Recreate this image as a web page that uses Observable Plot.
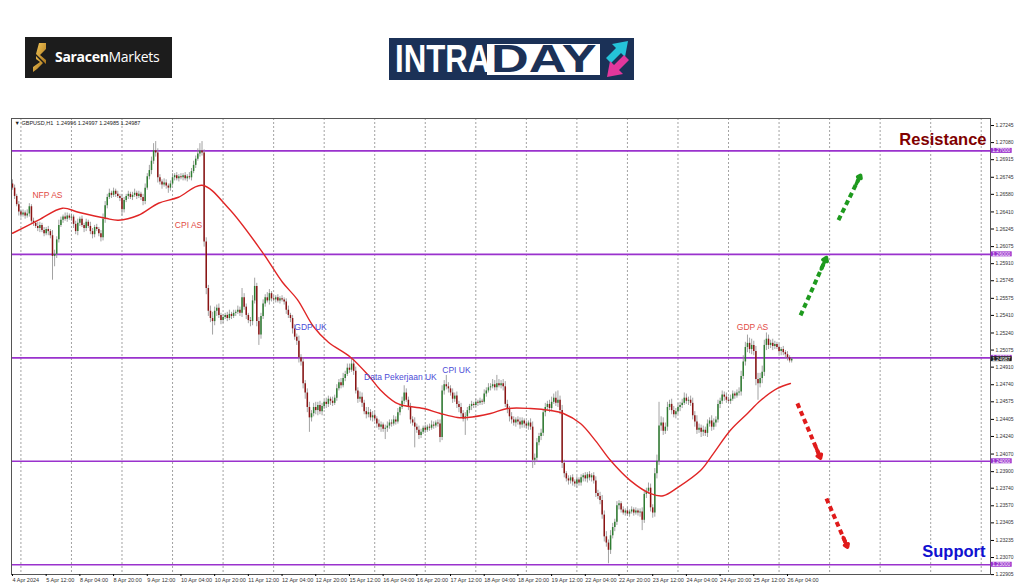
<!DOCTYPE html>
<html><head><meta charset="utf-8">
<script src="https://cdn.jsdelivr.net/npm/d3@7"></script>
<script src="https://cdn.jsdelivr.net/npm/@observablehq/plot@0.6"></script>
<style>
body{margin:0;background:#fff;}
#wrap{position:relative;width:1024px;height:587px;overflow:hidden;background:#fff;font-family:"Liberation Sans",Arial,sans-serif;}
#chart{position:absolute;left:0;top:110px;}
#sar{position:absolute;left:25px;top:37px;width:147px;height:41px;background:#1c1c1c;}
#sar .t{position:absolute;left:30px;top:11px;color:#fff;font-family:"Open Sans",sans-serif;font-size:14px;line-height:18px;letter-spacing:-0.3px;}
#intra{position:absolute;left:389px;top:38px;width:245px;height:42px;background:#1b3157;}
#intra .a{position:absolute;left:6px;top:0px;color:#fff;font-weight:bold;font-size:39px;line-height:42px;transform:scaleX(0.8);transform-origin:left center;}
#intra .box{position:absolute;left:98px;top:6px;width:113px;height:31px;background:#fff;}
#intra .b{position:absolute;left:102px;top:0px;color:#1b3157;font-weight:bold;font-size:39px;line-height:42px;transform:scaleX(1.34);transform-origin:left center;}
</style></head><body>
<div id="wrap">
  <div id="sar">
    <svg width="16" height="30" style="position:absolute;left:8px;top:6px">
      <defs><linearGradient id="g" x1="0" y1="0" x2="1" y2="1"><stop offset="0" stop-color="#f3c658"/><stop offset="1" stop-color="#a8741c"/></linearGradient></defs>
      <polygon points="6,0 13,0 13,6 7,12 13,17 13,21 6,14 3,11" fill="url(#g)"/>
      <polygon points="3,13 10,20 4,26 0,29 0,24 7,19 3,16" fill="url(#g)"/>
    </svg>
    <div class="t"><b>Saracen</b>Markets</div>
  </div>
  <div id="intra">
    <div class="a">INTRA</div>
    <div class="box"></div>
    <div class="b">DAY</div>
    <svg width="32" height="42" style="position:absolute;left:213px;top:0">
      <polygon points="4,20 14,10 10,6 26,3 23,19 19,15 9,25" fill="#25c3d9"/>
      <polygon points="27,22 17,32 21,36 5,39 8,23 12,27 22,17" fill="#e2379c"/>
    </svg>
  </div>
  <div id="chart"></div>
</div>
<script>
// ---- data (prices in pips above 1.2000) ----
const firstOpen = 668;
const closes = [
664,656,648,641,638,640,637,639,646,632,
630,627,625,628,623,620,624,622,618,598,
600,614,628,633,636,634,637,635,636,629,
622,630,634,628,625,631,627,622,619,626,
624,620,616,634,647,655,659,657,661,658,
656,654,643,652,656,658,655,657,659,656,
658,655,651,664,675,681,690,700,698,674,
670,667,669,666,664,668,674,676,673,675,
674,676,673,675,674,680,686,692,697,700,
698,612,567,545,538,535,545,548,541,536,
539,541,538,542,540,543,544,546,543,558,
549,541,536,535,555,569,535,522,540,552,
558,555,562,557,556,558,555,557,556,554,
546,541,538,528,520,516,500,496,475,466,
452,442,446,452,449,454,448,453,457,455,
460,458,456,461,470,476,473,480,484,490,
488,494,487,468,460,462,456,448,445,447,
442,444,441,436,433,435,431,432,434,437,
436,440,438,447,452,458,466,459,452,440,
437,433,430,425,428,432,430,433,432,435,
434,437,436,423,468,474,472,470,466,460,
463,455,452,446,441,443,449,453,455,454,
457,456,458,457,465,468,471,472,474,471,
475,473,475,472,455,450,443,440,437,440,
438,435,439,436,434,437,433,401,403,418,
424,427,447,452,455,451,457,461,456,459,
449,398,388,383,381,384,380,378,382,379,
384,386,383,387,384,386,381,369,366,362,
348,327,321,314,328,336,341,357,359,353,
350,352,349,351,353,350,352,350,351,343,
368,371,374,355,350,388,400,434,437,429,
433,452,455,449,445,448,452,454,456,461,
458,459,456,444,438,430,432,428,430,427,
436,439,433,437,440,455,458,464,462,459,
458,460,465,463,466,467,482,496,510,514,
508,512,506,479,475,480,486,512,518,512,
514,511,513,510,506,508,505,503,500,497,
498.7];
const wickHi = [
4,3,2,3,2,3,2,4,3,2, 3,2,4,3,2,3,2,3,2,5, 4,3,5,3,2,4,3,2,3,2, 3,4,2,3,2,3,2,4,3,2,
3,2,3,5,4,3,4,2,3,2, 3,2,4,3,2,3,2,3,4,2, 3,2,3,4,3,5,4,7,9,4, 3,2,4,3,2,3,4,2,3,2,
3,2,3,2,4,3,4,3,5,7, 9,3,4,3,5,6,4,3,4,2, 3,2,3,4,2,3,2,4,3,9, 4,3,2,3,5,8,3,4,3,4,
3,5,4,2,3,2,3,2,3,2, 3,4,2,3,4,3,5,3,4,3, 4,5,3,4,5,3,4,3,2,4, 3,2,4,3,4,3,4,5,3,4,
4,5,6,4,3,5,4,3,4,5, 3,4,3,2,4,3,2,3,4,3, 3,4,3,4,3,4,7,4,3,4, 3,5,3,4,3,2,3,2,3,4,
3,2,3,4,5,4,9,4,3,4, 3,4,3,4,3,4,3,2,3,2, 3,2,3,2,4,3,4,3,5,4, 8,4,3,4,5,4,3,4,3,2,
3,4,3,2,3,2,4,5,4,4, 3,4,3,4,3,4,5,4,6,9, 4,5,3,2,3,2,3,2,3,2, 3,2,3,2,3,2,3,4,3,4,
5,4,5,3,5,4,3,4,3,2, 3,2,3,2,3,2,3,2,3,4, 4,3,5,4,3,5,6,23,6,5, 4,5,4,5,4,3,4,3,4,5,
4,3,4,5,4,6,4,3,4,3, 4,3,5,4,3,4,3,4,3,4, 3,4,3,2,3,4,5,6,5,8, 5,6,4,5,6,5,6,5,6,4,
3,4,3,2,3,2,3,2,3,2, 1];
const wickLo = [
2,3,2,4,3,2,3,2,3,2, 3,2,3,4,2,3,2,4,3,23, 10,4,3,2,3,2,3,2,3,4, 3,4,3,2,4,3,2,3,4,3,
2,3,4,3,4,3,2,3,2,3, 2,3,6,3,2,3,2,3,2,3, 2,3,4,3,2,3,4,3,4,5, 3,4,2,3,5,3,2,3,2,3,
2,3,2,3,2,3,2,3,2,3, 3,5,6,5,4,13,4,5,3,4, 3,2,3,2,3,2,3,2,3,4, 3,4,3,5,4,3,5,10,4,3,
3,2,4,3,2,3,2,3,2,3, 4,3,4,5,3,4,5,4,5,6, 5,14,4,3,4,5,3,4,3,4, 3,4,3,2,3,2,3,2,3,2,
3,2,4,3,4,3,4,3,4,3, 3,4,3,4,3,5,3,10,4,3, 3,2,3,2,3,2,3,2,3,4, 3,20,3,4,3,2,3,2,3,2,
3,2,3,5,3,4,3,4,3,4, 3,4,5,4,3,16,4,3,4,3, 2,3,2,3,2,3,2,3,2,3, 3,2,3,4,3,4,5,4,3,4,
3,4,3,4,3,4,3,8,5,4, 3,4,3,4,3,4,3,2,3,4, 4,5,4,3,4,3,4,3,4,3, 3,4,3,4,3,4,3,4,3,4,
4,5,4,13,4,3,4,3,4,3, 2,3,2,3,2,3,2,3,4,10, 3,4,3,4,5,4,5,4,5,4, 3,4,3,4,3,4,3,4,3,2,
3,4,3,4,5,4,3,5,4,3, 4,3,4,3,4,3,4,3,4,3, 2,3,2,3,2,3,4,3,4,5, 4,5,4,6,16,4,5,4,5,4,
3,4,3,2,3,4,3,4,3,2, 2];
// moving average (bar index, pips)
const maBars = [0,12.3,23.7,31.3,44.2,50.3,59.8,69.3,78.8,90,102.6,118.7,128.2,135.3,143,150,160.5,169,174.7,181.9,185.7,195.2,203.2,211.3,216,227,235,246,255.5,261.6,269.7,276.8,284,293.4,303,309,315.8,326.7,332.9,340.9,349,355.2,363.2,369.4];
const maPips = [620.4,633,644.6,640.7,634.9,633,637.8,649.4,655.2,666.8,644.6,602,573,556.3,530,515,500.6,483,469,456.8,453.9,451,446.2,442.3,442.3,446.2,451,451,449.1,446.2,436.5,420,400.7,381.3,368.7,366.7,374.5,391,407.7,430,446.2,458.7,470.4,475.2];
const xLabels = ["4 Apr 2024","5 Apr 12:00","8 Apr 04:00","8 Apr 20:00","9 Apr 12:00","10 Apr 04:00","10 Apr 20:00","11 Apr 12:00","12 Apr 04:00","12 Apr 20:00","15 Apr 12:00","16 Apr 04:00","16 Apr 20:00","17 Apr 12:00","18 Apr 04:00","18 Apr 20:00","19 Apr 12:00","22 Apr 04:00","22 Apr 20:00","23 Apr 12:00","24 Apr 04:00","24 Apr 20:00","25 Apr 12:00","26 Apr 04:00"];
const xLabelBars = [0,16,32,48,64,80,96,112,128,144,160,176,192,208,224,240,256,272,288,304,320,336,352,368];
const dayBars = [4,28,52,76,100,124,148,172,196,220,244,268,292,316,340,364,388,412,436,460];
const yTicks = [1.27245,1.27080,1.26915,1.26745,1.26580,1.26410,1.26245,1.26075,1.25910,1.25745,1.25575,1.25410,1.25240,1.25075,1.24910,1.24740,1.24575,1.24405,1.24240,1.24070,1.23900,1.23740,1.23570,1.23405,1.23235,1.23070,1.22905];
const levels = [1.27,1.26,1.25,1.24,1.23];
const lastPrice = 1.24987;
const tickerText = "\u25BC GBPUSD,H1  1.24996 1.24997 1.24985 1.24987";
const eventNames = ["NFP AS","CPI AS","GDP UK","Data Pekerjaan UK","CPI UK","GDP AS"];
const eventBars = [16.6,83.6,141.5,184.2,210.8,351.4];
const eventPips = [657,628,529.5,481,488,529.5];
const eventRegion = ["US","US","UK","UK","UK","US"];
const arrowFromBar = [374.2,392.2,372.7,386.5];
const arrowFromPips = [541,633,456,364];
const arrowToBar = [386.5,402.7,383.7,396.5];
const arrowToPips = [597,676.5,403,317];
const arrowDir = ["up","up","down","down"];

// ---- build ----
const P = v => 1.2 + v / 10000;
const bars = closes.map((c, i) => {
  const o = i === 0 ? firstOpen : closes[i - 1];
  return {i, o: P(o), c: P(c), h: P(Math.max(o, c) + wickHi[i]), l: P(Math.min(o, c) - wickLo[i])};
});
const ma = maBars.map((b, i) => ({b, p: P(maPips[i])}));
const events = eventNames.map((n, i) => ({n, b: eventBars[i], p: P(eventPips[i]), r: eventRegion[i]}));
const arrows = arrowDir.map((d, i) => ({d, x1: arrowFromBar[i], y1: P(arrowFromPips[i]), x2: arrowToBar[i], y2: P(arrowToPips[i])}));
const labelMap = new Map(xLabelBars.map((b, i) => [b, xLabels[i]]));
const xMax = 464.4;
const purple = "#9a32cd";
const arrowColor = d => d.d === "up" ? "#1e9a1e" : "#e01b1b";

const chart = Plot.plot({
  width: 1024, height: 477,
  marginLeft: 11, marginRight: 34, marginTop: 8, marginBottom: 13,
  x: {domain: [-0.47, xMax], axis: null},
  y: {domain: [1.22906, 1.27313], axis: null},
  style: {fontFamily: "'Liberation Sans', Arial, sans-serif", fontSize: "5.5px", background: "transparent", overflow: "visible"},
  marks: [
    Plot.ruleX(dayBars, {stroke: "#8a8a8a", strokeDasharray: "2,2", strokeWidth: 0.8}),
    Plot.ruleY(levels, {stroke: purple, strokeWidth: 1.6}),
    Plot.ruleX(bars, {x: "i", y1: "l", y2: "h", stroke: "#8c8c8c", strokeWidth: 0.8}),
    Plot.ruleX(bars, {x: "i", y1: "o", y2: "c", stroke: d => d.c >= d.o ? "#2f7d32" : "#8b1414", strokeWidth: 1.5}),
    Plot.line(ma, {x: "b", y: "p", stroke: "#e02626", strokeWidth: 1.4, curve: "catmull-rom"}),
    Plot.frame({stroke: "#555"}),
    Plot.axisY(yTicks, {anchor: "right", tickFormat: d3.format(".5f"), tickSize: 3, tickPadding: 2, fontSize: 5, fill: "#333"}),
    Plot.axisX(xLabelBars, {anchor: "bottom", tickFormat: d => labelMap.get(d), textAnchor: "start", tickSize: 2, tickPadding: 2, fontSize: 5.5, fill: "#333"}),
    Plot.rect(levels, {x1: xMax + 0.3, x2: xMax + 10.3, y1: d => d - 0.00024, y2: d => d + 0.00024, fill: purple}),
    Plot.text(levels, {x: xMax + 0.8, y: d => d, text: d => d.toFixed(5), textAnchor: "start", fill: "white", fontSize: 5}),
    Plot.rect([lastPrice], {x1: xMax + 0.3, x2: xMax + 10.3, y1: d => d - 0.00024, y2: d => d + 0.00024, fill: "#222"}),
    Plot.text([lastPrice], {x: xMax + 0.8, y: d => d, text: d => d.toFixed(5), textAnchor: "start", fill: "white", fontSize: 5}),
    Plot.text([tickerText], {frameAnchor: "top-left", dx: 3, dy: 5, textAnchor: "start", lineAnchor: "middle", fontSize: 5.5, fill: "#222"}),
    Plot.text(events, {x: "b", y: "p", text: "n", fill: d => d.r === "US" ? "#e24a44" : "#4b4bd6", fontSize: 8.5}),
    Plot.link(arrows, {x1: "x1", y1: "y1", x2: "x2", y2: "y2", stroke: arrowColor, strokeWidth: 4, strokeDasharray: "5,3.5"}),
    Plot.arrow(arrows, {x1: d => d.x1 + (d.x2 - d.x1) * 0.8, y1: d => d.y1 + (d.y2 - d.y1) * 0.8, x2: "x2", y2: "y2", stroke: arrowColor, strokeWidth: 3.5, headLength: 9, headAngle: 70}),
    Plot.text(["Resistance"], {frameAnchor: "top-right", dx: -4, dy: 21, textAnchor: "end", lineAnchor: "middle", fontSize: 16.5, fontWeight: "bold", fill: "#800000"}),
    Plot.text(["Support"], {frameAnchor: "bottom-right", dx: -5, dy: -23, textAnchor: "end", lineAnchor: "middle", fontSize: 16.5, fontWeight: "bold", fill: "#1010d0"})
  ]
});
document.getElementById("chart").appendChild(chart);
</script>
</body></html>
